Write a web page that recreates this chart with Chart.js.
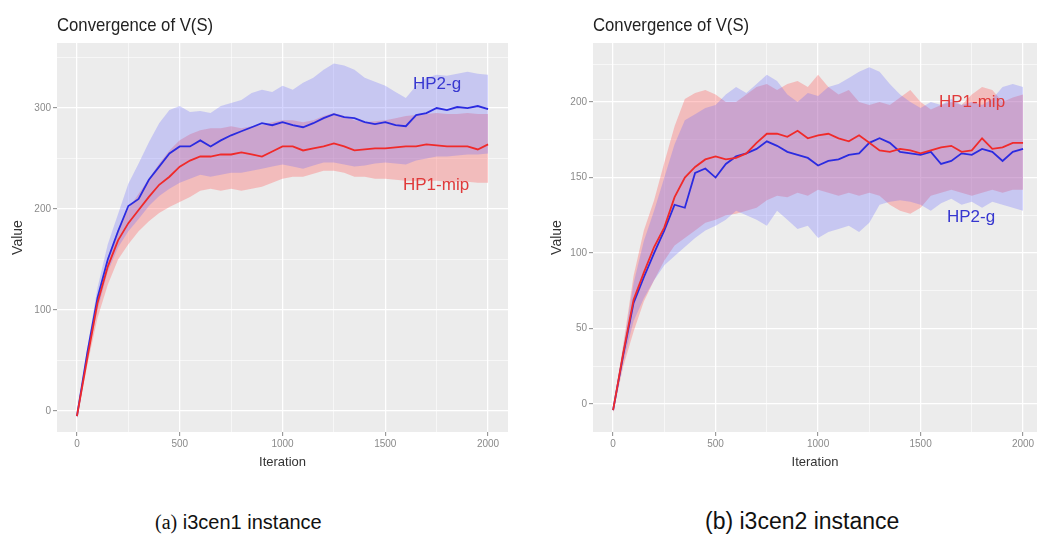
<!DOCTYPE html>
<html>
<head>
<meta charset="utf-8">
<script src="https://cdn.jsdelivr.net/npm/chart.js@4.4.0/dist/chart.umd.min.js"></script>
<style>
  body { margin: 0; background: #fff; width: 1038px; height: 542px; overflow: hidden; position: relative;
         font-family: "Liberation Sans", Arial, sans-serif; }
  canvas { position: absolute; top: 0; }
  #chartA { left: 0; }
  #chartB { left: 530px; }
  .title { position: absolute; top: 15px; font-size: 19px; line-height: 19px; color: #222;
           transform: scaleX(0.88); transform-origin: left; white-space: nowrap; }
  .caption { position: absolute; color: #111; white-space: nowrap; line-height: 24px; }
</style>
</head>
<body>
<canvas id="chartA" width="520" height="480"></canvas>
<canvas id="chartB" width="508" height="480"></canvas>
<div class="title" style="left:57px">Convergence of V(S)</div>
<div class="title" style="left:593px">Convergence of V(S)</div>
<div class="caption" style="left:155px; top:510px; font-size:20px;"><span style="font-family:'Liberation Serif', serif">(a)</span> i3cen1 instance</div>
<div class="caption" style="left:705px; top:509px; font-size:23px;">(b) i3cen2 instance</div>
<script>
// iteration grid shared by every series
const iterations = [0, 50, 100, 150, 200, 250, 300, 350, 400, 450, 500, 550, 600, 650, 700, 750, 800, 850, 900, 950,
  1000, 1050, 1100, 1150, 1200, 1250, 1300, 1350, 1400, 1450, 1500, 1550, 1600, 1650, 1700, 1750, 1800, 1850, 1900, 1950, 2000];

// (a) i3cen1
const aBlueMean = [-5, 57, 112, 150, 178, 203, 210, 229, 242, 255, 262, 262, 268, 262, 268, 273, 277, 281, 285, 283,
  286, 283, 281, 285, 290, 294, 291, 290, 286, 284, 286, 283, 282, 293, 295, 300, 298, 301, 300, 302, 299];
const aBlueHi = [-3, 62, 122, 165, 195, 225, 245, 266, 285, 298, 302, 296, 297, 295, 302, 305, 308, 315, 318, 316,
  322, 318, 325, 330, 338, 344, 342, 338, 330, 326, 322, 316, 310, 322, 330, 333, 332, 334, 336, 334, 333];
const aBlueLo = [-7, 52, 100, 138, 162, 178, 190, 203, 213, 220, 226, 230, 234, 232, 234, 236, 236, 238, 240, 242,
  244, 242, 240, 243, 246, 246, 244, 242, 243, 245, 246, 245, 244, 248, 250, 252, 252, 253, 254, 254, 255];
const aRedMean = [-5, 52, 107, 143, 169, 186, 199, 212, 224, 232, 242, 248, 252, 252, 254, 254, 256, 254, 252, 257,
  262, 262, 258, 260, 262, 265, 262, 258, 259, 260, 260, 261, 262, 262, 264, 263, 262, 262, 262, 259, 264];
const aRedHi = [-3, 56, 112, 152, 180, 200, 215, 230, 245, 258, 268, 274, 278, 280, 280, 282, 280, 282, 283, 286,
  288, 288, 286, 288, 292, 295, 292, 288, 286, 287, 288, 290, 292, 293, 294, 295, 294, 294, 295, 294, 294];
const aRedLo = [-8, 45, 92, 125, 150, 165, 178, 188, 196, 202, 207, 212, 218, 220, 218, 220, 218, 220, 222, 226,
  230, 232, 232, 235, 238, 238, 236, 232, 232, 230, 230, 229, 228, 228, 228, 228, 227, 227, 227, 226, 226];

// (b) i3cen2
const bRedMean = [-4, 34, 69, 87, 104, 117, 137, 150, 157, 162, 164, 162, 163, 166, 173, 179, 179, 177, 181, 176,
  178, 179, 176, 174, 178, 173, 168, 167, 169, 168, 166, 168, 170, 171, 167, 168, 176, 169, 170, 173, 173];
const bRedHi = [-3, 40, 85, 115, 135, 160, 184, 202, 206, 208, 205, 200, 200, 205, 210, 212, 208, 212, 214, 210,
  218, 210, 205, 208, 200, 198, 200, 198, 203, 208, 200, 195, 198, 200, 198, 205, 210, 208, 200, 203, 205];
const bRedLo = [-6, 25, 48, 68, 82, 95, 105, 110, 115, 120, 122, 125, 126, 128, 130, 135, 138, 137, 140, 138,
  142, 140, 138, 140, 138, 140, 138, 132, 128, 126, 130, 138, 140, 142, 140, 138, 140, 142, 140, 142, 142];
const bBlueMean = [-4, 33, 67, 84, 100, 115, 132, 130, 153, 156, 150, 159, 164, 166, 169, 174, 171, 167, 165, 163,
  158, 161, 162, 165, 166, 173, 176, 173, 167, 166, 165, 167, 159, 161, 166, 165, 169, 167, 161, 167, 169];
const bBlueHi = [-3, 38, 80, 108, 128, 150, 172, 188, 192, 196, 198, 205, 210, 206, 212, 218, 214, 205, 200, 206,
  204, 210, 212, 216, 220, 223, 220, 212, 205, 200, 196, 200, 198, 202, 198, 200, 198, 202, 210, 212, 210];
const bBlueLo = [-5, 28, 55, 70, 82, 92, 98, 104, 110, 115, 118, 122, 128, 125, 122, 118, 128, 122, 116, 118,
  110, 114, 116, 118, 114, 120, 132, 134, 135, 134, 132, 128, 133, 136, 132, 134, 130, 134, 132, 130, 128];

// axis ticks
const xTickValues = [0, 250, 500, 750, 1000, 1250, 1500, 1750, 2000];
const aYTickValues = [0, 50, 100, 150, 200, 250, 300, 350];
const bYTickValues = [0, 25, 50, 75, 100, 125, 150, 175, 200, 225];

const BLUE = '#2b2be0';
const RED = '#f02a2a';
const BLUE_BAND = 'rgba(100,100,255,0.27)';
const RED_BAND = 'rgba(255,90,90,0.33)';

Chart.defaults.font.family = '"Liberation Sans", Arial, sans-serif';

const panelBg = {
  id: 'panelBg',
  beforeDraw(chart) {
    const { ctx, chartArea: a } = chart;
    ctx.save();
    ctx.fillStyle = '#ececec';
    ctx.fillRect(a.left, a.top, a.width, a.height);
    ctx.restore();
  }
};

const curveLabels = {
  id: 'curveLabels',
  afterDatasetsDraw(chart, args, opts) {
    const { ctx, scales: { x, y } } = chart;
    ctx.save();
    ctx.font = '17px "Liberation Sans", Arial, sans-serif';
    ctx.textAlign = 'center';
    ctx.textBaseline = 'middle';
    opts.items.forEach(it => {
      ctx.fillStyle = it.color;
      ctx.fillText(it.text, x.getPixelForValue(it.x), y.getPixelForValue(it.y));
    });
    ctx.restore();
  }
};

function pts(arr) {
  return iterations.map((x, i) => ({ x, y: arr[i] }));
}

function band(arr, color, fill) {
  return { data: pts(arr), borderWidth: 0, pointRadius: 0, backgroundColor: color, fill: fill };
}

function buildChart(id, cfg) {
  const isMajor = (v, step) => v % step === 0;
  return new Chart(document.getElementById(id), {
    type: 'line',
    data: {
      datasets: [
        { label: 'HP1-mip', data: pts(cfg.redMean), borderColor: RED, borderWidth: 1.8, pointRadius: 0, fill: false },
        { label: 'HP2-g', data: pts(cfg.blueMean), borderColor: BLUE, borderWidth: 1.8, pointRadius: 0, fill: false },
        band(cfg.blueHi, BLUE_BAND, '+1'),
        band(cfg.blueLo, 'transparent', false),
        band(cfg.redHi, RED_BAND, '+1'),
        band(cfg.redLo, 'transparent', false)
      ]
    },
    options: {
      responsive: false,
      animation: false,
      layout: { padding: { top: 43, right: cfg.padRight, left: 0, bottom: 0 } },
      plugins: {
        legend: { display: false },
        tooltip: { enabled: false },
        filler: { drawTime: 'beforeDatasetsDraw' },
        curveLabels: { items: cfg.labels }
      },
      scales: {
        x: {
          type: 'linear',
          min: cfg.xMin,
          max: cfg.xMax,
          afterBuildTicks: s => { s.ticks = xTickValues.map(v => ({ value: v })); },
          afterFit: s => { s.height = 48; },
          border: { display: false },
          grid: {
            color: '#fff',
            lineWidth: c => (c.tick && isMajor(c.tick.value, 500) ? 1.3 : 0.6),
            tickColor: c => (c.tick && isMajor(c.tick.value, 500) ? '#8a8a8a' : 'rgba(0,0,0,0)'),
            tickWidth: 1,
            tickLength: 4
          },
          ticks: {
            autoSkip: false, maxRotation: 0, padding: 2,
            color: '#8a8a8a', font: { size: 10 },
            callback: v => (isMajor(v, 500) ? v : '')
          },
          title: { display: true, text: 'Iteration', color: '#333', font: { size: 13 }, padding: { top: 0, bottom: 10 } }
        },
        y: {
          min: cfg.yMin,
          max: cfg.yMax,
          afterBuildTicks: s => { s.ticks = cfg.yTicks.map(v => ({ value: v })); },
          afterFit: s => { s.width = cfg.yWidth; },
          border: { display: false },
          grid: {
            color: '#fff',
            lineWidth: c => (c.tick && isMajor(c.tick.value, cfg.yMajor) ? 1.3 : 0.6),
            tickColor: c => (c.tick && isMajor(c.tick.value, cfg.yMajor) ? '#8a8a8a' : 'rgba(0,0,0,0)'),
            tickWidth: 1,
            tickLength: 4
          },
          ticks: {
            autoSkip: false, padding: 2,
            color: '#8a8a8a', font: { size: 10 },
            callback: v => (isMajor(v, cfg.yMajor) ? v : '')
          },
          title: { display: true, text: 'Value', color: '#333', font: { size: 14 }, padding: { top: cfg.yTitlePad } }
        }
      }
    },
    plugins: [panelBg, curveLabels]
  });
}

buildChart('chartA', {
  redMean: aRedMean, redHi: aRedHi, redLo: aRedLo,
  blueMean: aBlueMean, blueHi: aBlueHi, blueLo: aBlueLo,
  xMin: -97, xMax: 2097, yMin: -20.8, yMax: 364.4,
  yTicks: aYTickValues, yMajor: 100,
  yWidth: 57, yTitlePad: 9.6, padRight: 12,
  labels: [
    { text: 'HP2-g', x: 1752, y: 323, color: '#3737d0' },
    { text: 'HP1-mip', x: 1747, y: 223, color: '#e03a3a' }
  ]
});

buildChart('chartB', {
  redMean: bRedMean, redHi: bRedHi, redLo: bRedLo,
  blueMean: bBlueMean, blueHi: bBlueHi, blueLo: bBlueLo,
  xMin: -98, xMax: 2068, yMin: -18.5, yMax: 239.1,
  yTicks: bYTickValues, yMajor: 50,
  yWidth: 63, yTitlePad: 18.6, padRight: 1,
  labels: [
    { text: 'HP1-mip', x: 1751, y: 200, color: '#e03a3a' },
    { text: 'HP2-g', x: 1746, y: 123.5, color: '#3737d0' }
  ]
});
</script>
</body>
</html>
